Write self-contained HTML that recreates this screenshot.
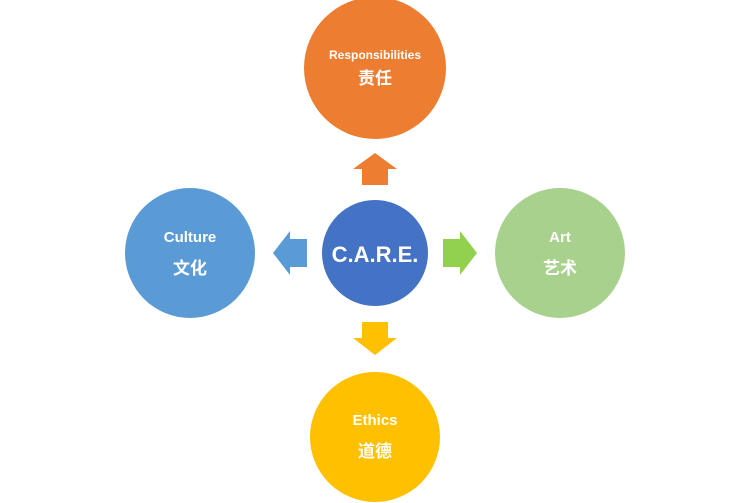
<!DOCTYPE html>
<html><head><meta charset="utf-8"><style>
html,body{margin:0;padding:0;background:#fff;}
svg{display:block;}
text{font-family:"Liberation Sans","Noto Sans CJK SC",sans-serif;fill:#fff;text-anchor:middle;font-weight:bold;}
</style></head><body>
<svg width="750" height="503" viewBox="0 0 750 503">
<circle cx="375" cy="68" r="71" fill="#ED7D31"/>
<circle cx="190" cy="253" r="65" fill="#5B9BD5"/>
<circle cx="560" cy="253" r="65" fill="#A9D18E"/>
<circle cx="375" cy="437" r="65" fill="#FFC000"/>
<circle cx="375" cy="253" r="53" fill="#4472C4"/>
<polygon points="375,153 397,169 388,169 388,185 362,185 362,169 353,169" fill="#ED7D31"/>
<polygon points="375,355 397,338 388,338 388,322 362,322 362,338 353,338" fill="#FFC000"/>
<polygon points="273,253 290,231 290,239 307,239 307,267 290,267 290,275" fill="#5B9BD5"/>
<polygon points="477,253 460,231 460,239 443,239 443,267 460,267 460,275" fill="#92D050"/>
<text x="375" y="59" font-size="12" font-weight="normal">Responsibilities</text>
<text x="375" y="84" font-size="17">责任</text>
<text x="190" y="242" font-size="15">Culture</text>
<text x="190" y="274" font-size="17">文化</text>
<text x="560" y="242" font-size="15">Art</text>
<text x="560" y="274" font-size="17">艺术</text>
<text x="375" y="425" font-size="15">Ethics</text>
<text x="375" y="457" font-size="17">道德</text>
<text x="375" y="262" font-size="22" font-weight="normal">C.A.R.E.</text>
</svg>
</body></html>
